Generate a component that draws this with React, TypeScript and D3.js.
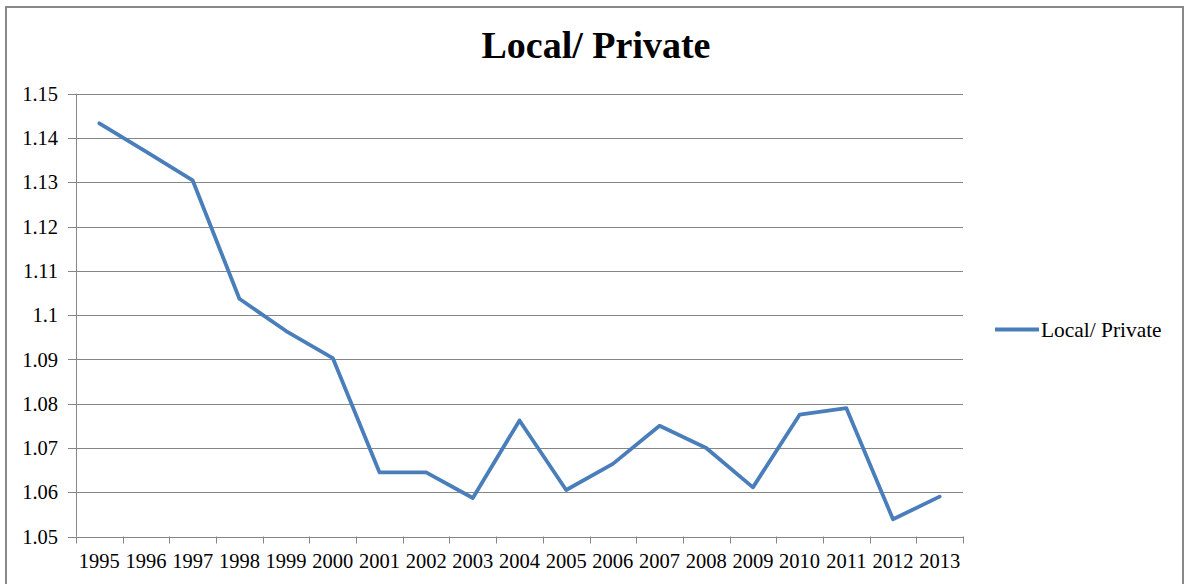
import React from "react";
import * as d3 from "d3";

const years = ["1995","1996","1997","1998","1999","2000","2001","2002","2003","2004","2005","2006","2007","2008","2009","2010","2011","2012","2013"];
const values = [1.1433,1.1369,1.1304,1.1037,1.0964,1.0903,1.0645,1.0645,1.0587,1.0762,1.0605,1.0664,1.0750,1.0700,1.0611,1.0775,1.0790,1.0539,1.0590];
const yTicks = [1.05,1.06,1.07,1.08,1.09,1.1,1.11,1.12,1.13,1.14,1.15];
const seriesName = "Local/ Private";
const title = "Local/ Private";

const W = 1186, H = 584;
const left = 76, right = 963, top = 93.7, bottom = 536.5;
const FONT = "'Liberation Serif', 'Times New Roman', serif";

export default function App() {
  const x = d3.scaleBand<string>().domain(years).range([left, right]).paddingInner(0).paddingOuter(0);
  const y = d3.scaleLinear().domain([1.05, 1.15]).range([bottom, top]);
  const line = d3.line<number>()
    .x((_, i) => (x(years[i]) as number) + x.bandwidth() / 2)
    .y((d) => y(d));
  const grid = "#868686";
  const boundaries = years.map((yr) => x(yr) as number).concat([right]);
  return (
    <div style={{ position: "absolute", left: 0, top: 0 }}>
      <svg width={W} height={H} style={{ display: "block" }}>
        <rect x={0} y={0} width={W} height={H} fill="#fff" />
        <rect x={6} y={7} width={1177} height={620} fill="#fff" stroke="#888" strokeWidth={2} />
        <text x={596} y={58} textAnchor="middle" fontFamily={FONT} fontWeight="bold" fontSize={38} fill="#000">{title}</text>
        {yTicks.map((t) => (
          <g key={t}>
            <line x1={68} x2={right} y1={Math.round(y(t)) + 0.5} y2={Math.round(y(t)) + 0.5} stroke={grid} strokeWidth={1} />
            <text x={58} y={y(t)} dy="0.35em" textAnchor="end" fontFamily={FONT} fontSize={20.5} fill="#000">{String(t)}</text>
          </g>
        ))}
        <line x1={left + 0.5} x2={left + 0.5} y1={top} y2={bottom} stroke={grid} strokeWidth={1} />
        {boundaries.map((b, i) => (
          <line key={i} x1={Math.round(b) + 0.5} x2={Math.round(b) + 0.5} y1={bottom} y2={bottom + 7} stroke={grid} strokeWidth={1} />
        ))}
        {years.map((yr) => (
          <text key={yr} x={(x(yr) as number) + x.bandwidth() / 2} y={568} textAnchor="middle" fontFamily={FONT} fontSize={20.5} fill="#000">{yr}</text>
        ))}
        <path d={line(values) || ""} fill="none" stroke="#4a7ebb" strokeWidth={3.8} strokeLinejoin="round" strokeLinecap="round" />
        <line x1={995} x2={1039} y1={329.5} y2={329.5} stroke="#4a7ebb" strokeWidth={3.8} />
        <text x={1041} y={329.5} dy="0.35em" fontFamily={FONT} fontSize={21.4} fill="#000">{seriesName}</text>
      </svg>
    </div>
  );
}
